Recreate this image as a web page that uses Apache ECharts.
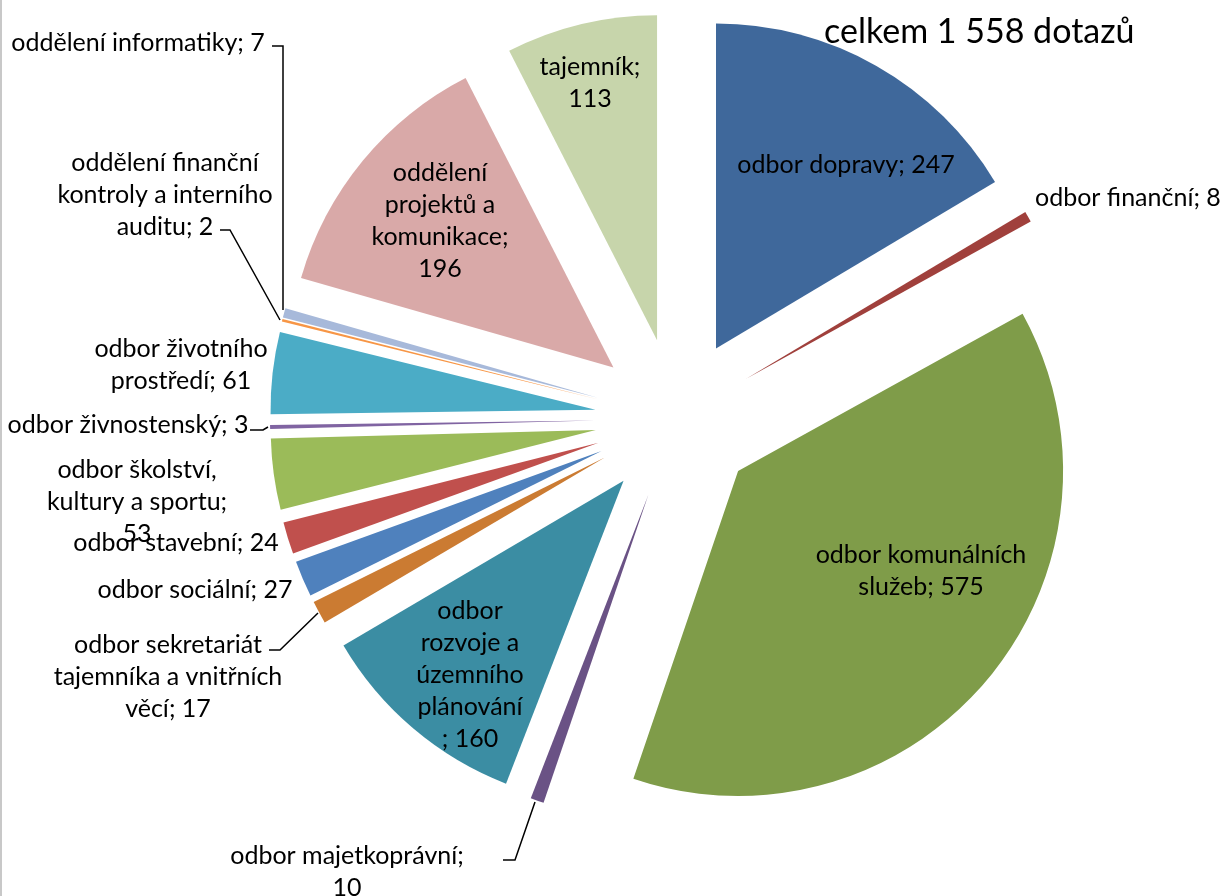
<!DOCTYPE html>
<html><head><meta charset="utf-8">
<script src="https://cdn.jsdelivr.net/npm/echarts@6/dist/echarts.min.js"></script>
<style>html,body{margin:0;padding:0;background:#fff}#c{width:1225px;height:896px}</style>
</head><body><div id="c"></div>
<script>
const categories = [
  'odbor dopravy','odbor finanční','odbor komunálních služeb','odbor majetkoprávní',
  'odbor rozvoje a územního plánování','odbor sekretariát tajemníka a vnitřních věcí',
  'odbor sociální','odbor stavební','odbor školství, kultury a sportu','odbor živnostenský',
  'odbor životního prostředí','oddělení finanční kontroly a interního auditu',
  'oddělení informatiky','oddělení projektů a komunikace','tajemník'
];
const values = [247, 8, 575, 10, 160, 17, 27, 24, 53, 3, 61, 2, 7, 196, 113];
const subtitle = 'celkem 1 558 dotazů';
// label text as wrapped in the reference
const labelTexts = [
  'odbor dopravy; 247','odbor finanční; 8','odbor komunálních\nslužeb; 575','odbor majetkoprávní;\n10',
  'odbor\nrozvoje a\núzemního\nplánování\n; 160','odbor sekretariát\ntajemníka a vnitřních\nvěcí; 17',
  'odbor sociální; 27','odbor stavební; 24','odbor školství,\nkultury a sportu;\n53','odbor živnostenský; 3',
  'odbor životního\nprostředí; 61','oddělení finanční\nkontroly a interního\nauditu; 2',
  'oddělení informatiky; 7','oddělení\nprojektů a\nkomunikace;\n196','tajemník;\n113'
];
const colors = ['#3F689B','#A0403C','#7F9C49','#6A5285','#3B8DA3','#CB7B32','#4F81BD','#C0504D',
  '#9BBB59','#8064A2','#4BACC6','#F79646','#A7B9DA','#D9A9A8','#C7D5AB'];

// layout only: pie centre, radius, explosion distance
const CX = 676, CY = 419, R = 325, EXPLODE = 81;
// label placement (layout only): [x, y, align]
const labelPos = [
  [846,165,'center'],[1035,198,'left'],[921,571,'center'],[347,872,'center'],
  [470,675,'center'],[168,677,'center'],[195,590,'center'],[176,543,'center'],
  [137,502,'center'],[128,425,'center'],[181,365,'center'],[165,195,'center'],
  [138,43,'center'],[440,221,'center'],[590,83,'center']
];
// leader lines (layout only)
const leaders = {
  3: [[535,802],[515,860],[503,860]],
  5: [[318,613],[280,650],[269,650]],
  9: [[268,427],[263,430],[250,430]],
  11: [[280,320],[230,230],[220,230]],
  12: [[283,310],[283,46],[272,46]]
};

const FONT = 'Lato';
const total = values.reduce((a, b) => a + b, 0);
let cum = 0;
const series = values.map((v, i) => {
  const mid = (cum + v / 2) / total * 2 * Math.PI;
  cum += v;
  const cx = CX + EXPLODE * Math.sin(mid), cy = CY - EXPLODE * Math.cos(mid);
  return {
    type: 'pie',
    center: [cx, cy],
    radius: [0, R],
    startAngle: 90,
    clockwise: true,
    silent: true,
    avoidLabelOverlap: false,
    emphasis: {disabled: true},
    label: {
      show: false, position: 'outside', fontFamily: FONT, fontSize: 25, lineHeight: 32,
      color: '#000', formatter: () => labelTexts[i]
    },
    labelLine: {show: false, lineStyle: {color: '#000', width: 1.5}},
    labelLayout: function (p) {
      const lp = labelPos[i];
      const r = {x: lp[0], y: lp[1], align: lp[2], verticalAlign: 'middle'};
      if (leaders[i]) r.labelLinePoints = leaders[i];
      return r;
    },
    data: categories.map((n, j) => ({
      name: n, value: values[j],
      itemStyle: {color: j === i ? colors[j] : 'rgba(0,0,0,0)'},
      label: {show: j === i},
      labelLine: {show: j === i && !!leaders[j]}
    }))
  };
});

const chart = echarts.init(document.getElementById('c'), null, {renderer:'canvas'});
chart.setOption({
  animation: false,
  title: {
    text: subtitle, left: 819, top: 10,
    textStyle: {fontFamily: FONT, fontSize: 34, fontWeight: 'normal', color: '#000'}
  },
  graphic: [{type:'rect', shape:{x:0,y:0,width:2,height:896}, style:{fill:'#c8c8c8'}, silent:true}],
  series: series
});
</script></body></html>
